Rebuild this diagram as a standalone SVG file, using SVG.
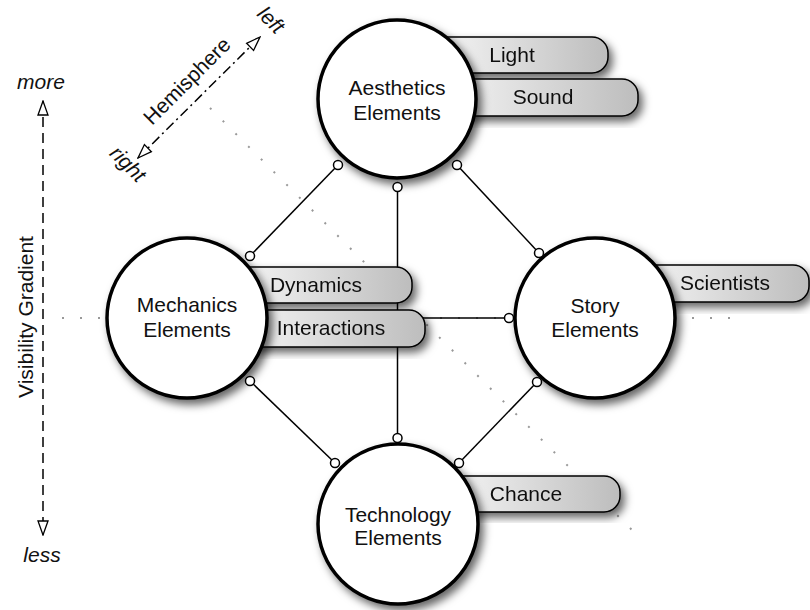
<svg xmlns="http://www.w3.org/2000/svg" width="810" height="610" viewBox="0 0 810 610">
<style>
text{font-family:"Liberation Sans",Arial,Helvetica,sans-serif;font-size:21px;fill:#111}
.it{font-style:italic}
.mid{text-anchor:middle}
.node{fill:#fff;stroke:#000;stroke-width:3.5}
.box{fill:url(#bg);stroke:#000;stroke-width:1.5}
.con{stroke:#000;stroke-width:1.5;fill:none}
.end{fill:#fff;stroke:#000;stroke-width:1.5}
.guide{stroke:#999;stroke-width:2;stroke-dasharray:2 16;fill:none}
.axis{stroke:#000;stroke-width:1.5;fill:none}
</style>
<defs>
<linearGradient id="bg" x1="0" y1="0" x2="1" y2="0">
<stop offset="0" stop-color="#fbfbfb"/>
<stop offset="1" stop-color="#bdbdbd"/>
</linearGradient>
<filter id="sh" x="-20%" y="-20%" width="150%" height="150%">
<feDropShadow dx="4" dy="5" stdDeviation="4" flood-color="#000" flood-opacity="0.6"/>
</filter>
<marker id="tri" viewBox="0 0 16 12" refX="15" refY="6" markerWidth="16" markerHeight="12" markerUnits="userSpaceOnUse" orient="auto-start-reverse">
<path d="M1,1 L15,6 L1,11 Z" fill="#fff" stroke="#000" stroke-width="1.3"/>
</marker>
</defs>
<rect width="810" height="610" fill="#fff"/>

<g id="guides">
<line class="guide" x1="210" y1="108" x2="640" y2="538"/>
<line class="guide" x1="62" y1="318" x2="740" y2="318"/>
</g>

<g id="axes">
<line class="axis" x1="43" y1="101" x2="43" y2="535" stroke-dasharray="10 6" marker-start="url(#tri)" marker-end="url(#tri)"/>
<text class="it mid" x="41" y="89">more</text>
<text class="it mid" x="42" y="562">less</text>
<text class="mid" transform="translate(33,317) rotate(-90)">Visibility Gradient</text>
<line class="axis" x1="138" y1="158" x2="260" y2="37" stroke-dasharray="10 4 2 4" marker-start="url(#tri)" marker-end="url(#tri)"/>
<text class="mid" transform="translate(192,86) rotate(-45)">Hemisphere</text>
<text class="it mid" transform="translate(266,25) rotate(45)">left</text>
<text class="it mid" transform="translate(123,169) rotate(45)">right</text>
</g>

<g id="connectors">
<line class="con" x1="338" y1="165" x2="250" y2="256"/>
<line class="con" x1="397.5" y1="187" x2="397.5" y2="438"/>
<line class="con" x1="457" y1="165" x2="539" y2="253"/>
<line class="con" x1="250" y1="381" x2="335" y2="463"/>
<line class="con" x1="537" y1="382" x2="459" y2="463"/>
<line class="con" x1="274" y1="318" x2="509" y2="318"/>
</g>

<g id="box-light" filter="url(#sh)"><rect class="box" x="420" y="37" width="188" height="36" rx="16"/><text class="mid" x="512" y="62">Light</text></g>
<g id="box-sound" filter="url(#sh)"><rect class="box" x="420" y="79" width="218" height="37" rx="16"/><text class="mid" x="543" y="104">Sound</text></g>
<g id="box-dynamics" filter="url(#sh)"><rect class="box" x="220" y="267" width="192" height="36" rx="16"/><text class="mid" x="316" y="292">Dynamics</text></g>
<g id="box-interactions" filter="url(#sh)"><rect class="box" x="220" y="310" width="205" height="37" rx="16"/><text class="mid" x="331" y="335">Interactions</text></g>
<g id="box-scientists" filter="url(#sh)"><rect class="box" x="620" y="265" width="189" height="37" rx="16"/><text class="mid" x="725" y="290">Scientists</text></g>
<g id="box-chance" filter="url(#sh)"><rect class="box" x="430" y="476" width="190" height="36" rx="16"/><text class="mid" x="526" y="501">Chance</text></g>

<g id="node-aesthetics"><circle class="node" cx="397" cy="99" r="79" filter="url(#sh)"/><text class="mid" x="397" y="95">Aesthetics</text><text class="mid" x="397" y="120">Elements</text></g>
<g id="node-mechanics"><circle class="node" cx="187" cy="318" r="80" filter="url(#sh)"/><text class="mid" x="187" y="312">Mechanics</text><text class="mid" x="187" y="337">Elements</text></g>
<g id="node-story"><circle class="node" cx="595" cy="318" r="80" filter="url(#sh)"/><text class="mid" x="595" y="313">Story</text><text class="mid" x="595" y="337">Elements</text></g>
<g id="node-technology"><circle class="node" cx="398" cy="524" r="80" filter="url(#sh)"/><text class="mid" x="398" y="522">Technology</text><text class="mid" x="398" y="545">Elements</text></g>

<g id="connector-ends">
<circle class="end" cx="338" cy="165" r="4.5"/><circle class="end" cx="250" cy="256" r="4.5"/>
<circle class="end" cx="397.5" cy="187" r="4.5"/><circle class="end" cx="397.5" cy="438" r="4.5"/>
<circle class="end" cx="457" cy="165" r="4.5"/><circle class="end" cx="539" cy="253" r="4.5"/>
<circle class="end" cx="250" cy="381" r="4.5"/><circle class="end" cx="335" cy="463" r="4.5"/>
<circle class="end" cx="537" cy="382" r="4.5"/><circle class="end" cx="459" cy="463" r="4.5"/>
<circle class="end" cx="509" cy="318" r="4.5"/>
</g>
</svg>
